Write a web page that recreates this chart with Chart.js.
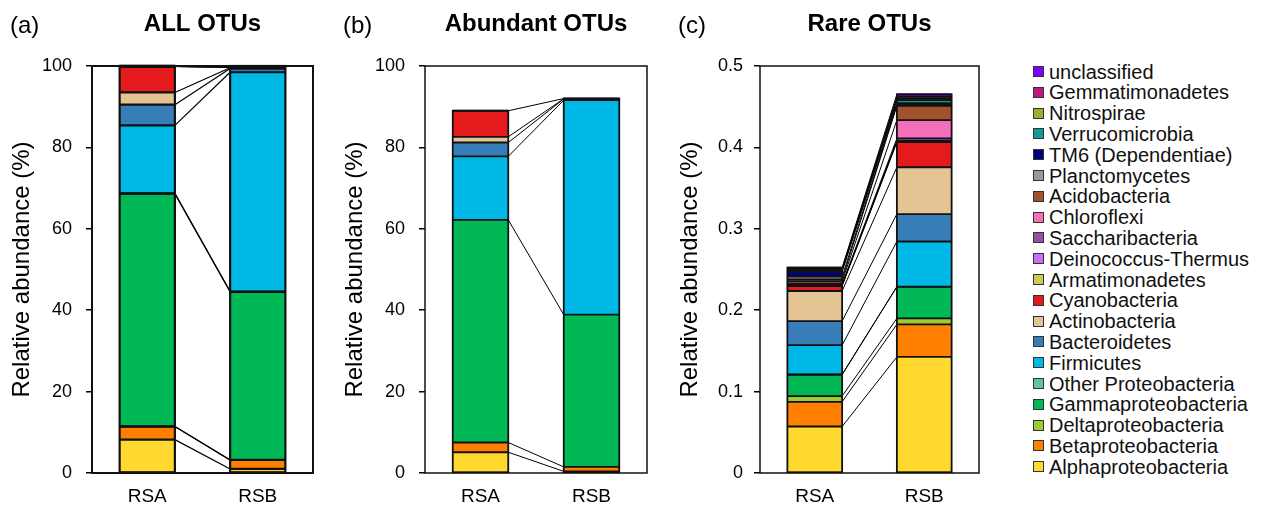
<!DOCTYPE html>
<html>
<head>
<meta charset="utf-8">
<script src="https://cdn.jsdelivr.net/npm/chart.js@4.4.1/dist/chart.umd.min.js"></script>
<style>
  html,body{margin:0;padding:0;background:#fff;width:1265px;height:508px;overflow:hidden;font-family:"Liberation Sans",Arial,sans-serif;}
  .cv{position:absolute;top:0;height:508px;}
  #legend{position:absolute;left:1033px;top:61.6px;}
  .li{position:relative;height:20.8px;line-height:20.8px;font-size:20px;color:#111;white-space:nowrap;}
  .bx{position:absolute;left:0;top:4.4px;width:9px;height:9px;border:1.5px solid #333;}
  .tx{position:absolute;left:16px;top:0;}
</style>
</head>
<body>
<div class="cv" style="left:0;width:330px;"><canvas id="ca"></canvas></div>
<div class="cv" style="left:333px;width:330px;"><canvas id="cb"></canvas></div>
<div class="cv" style="left:668px;width:332px;"><canvas id="cc"></canvas></div>
<div id="legend"></div>
<script>
// ---- data ----
const samples = ['RSA', 'RSB'];
const taxa = ['Alphaproteobacteria','Betaproteobacteria','Deltaproteobacteria','Gammaproteobacteria','Other Proteobacteria','Firmicutes','Bacteroidetes','Actinobacteria','Cyanobacteria','Armatimonadetes','Deinococcus-Thermus','Saccharibacteria','Chloroflexi','Acidobacteria','Planctomycetes','TM6 (Dependentiae)','Verrucomicrobia','Nitrospirae','Gemmatimonadetes','unclassified'];
const taxaColors = ['#FFD92F','#FF8000','#9ACD32','#00B956','#5EC6A0','#00B8E6','#377EB8','#E5C494','#E41A1C','#CCCC55','#CC6EF5','#984EA3','#F46FBA','#A0522D','#999999','#000080','#139A96','#9AAF2A','#C0177B','#8000FF'];

// All OTUs (%)
const allRSA = [8.2,3.2,0.05,57.2,0.05,16.7,5.1,3.0,6.4,0.01,0.01,0.01,0.02,0.01,0.01,0.01,0.01,0.005,0.005,0.01];
const allRSB = [1.0,2.2,0.02,41.3,0.05,53.9,0.9,0.2,0.15,0.01,0.01,0.02,0.08,0.05,0.03,0.02,0.02,0.01,0.01,0.02];
// Abundant OTUs (%)
const abRSA = [5.1,2.4,0,54.7,0,15.6,3.4,1.4,6.4,0,0,0,0,0,0,0,0,0,0,0];
const abRSB = [0.4,1.1,0,37.4,0,52.7,0.3,0.05,0.05,0,0,0,0,0,0,0,0,0,0,0];
// Rare OTUs (%)
const rareRSA = [0.0571,0.0304,0.0070,0.0262,0.0005,0.0358,0.0296,0.0370,0.0061,0.0008,0.0005,0.0012,0.0030,0.0025,0.0035,0.0060,0.0020,0.0008,0.0010,0.0013];
const rareRSB = [0.1426,0.0399,0.0074,0.0388,0.0002,0.0555,0.0337,0.0575,0.0308,0.0010,0.0006,0.0030,0.0225,0.0175,0.0015,0.0020,0.0035,0.0015,0.0025,0.0032];

const ticksAB = [0,20,40,60,80,100];
const ticksC = [0,0.1,0.2,0.3,0.4,0.5];

const FONT = '"Liberation Sans", Arial, sans-serif';

// ---- plugins ----
const decor = {
  id: 'decor',
  beforeDatasetsDraw(chart, args, opts) {
    const ctx = chart.ctx;
    const n = chart.data.datasets.length;
    ctx.save();
    ctx.strokeStyle = '#000';
    ctx.lineWidth = opts.linkWidth;
    for (let i = 0; i < n; i++) {
      const d = chart.data.datasets[i].data;
      if (!d[0] && !d[1]) continue;
      const meta = chart.getDatasetMeta(i);
      const a = meta.data[0].getProps(['x','y','width'], true);
      const b = meta.data[1].getProps(['x','y','width'], true);
      ctx.beginPath();
      ctx.moveTo(a.x + a.width/2, a.y);
      ctx.lineTo(b.x - b.width/2, b.y);
      ctx.stroke();
    }
    ctx.restore();
  },
  afterDatasetsDraw(chart, args, opts) {
    // crisp separators and outline for each stacked bar
    const ctx = chart.ctx;
    const n = chart.data.datasets.length;
    ctx.save();
    ctx.strokeStyle = '#111';
    for (let j = 0; j < chart.data.labels.length; j++) {
      let top = Infinity, base = -Infinity, x = 0, w = 0;
      ctx.lineWidth = opts.sepWidth;
      for (let i = 0; i < n; i++) {
        const p = chart.getDatasetMeta(i).data[j].getProps(['x','y','base','width'], true);
        top = Math.min(top, p.y); base = Math.max(base, p.base); x = p.x; w = p.width;
        if (chart.data.datasets[i].data[j] > 0) {
          ctx.beginPath();
          ctx.moveTo(x - w/2, p.y);
          ctx.lineTo(x + w/2, p.y);
          ctx.stroke();
        }
      }
      ctx.lineWidth = opts.outlineWidth;
      ctx.strokeRect(x - w/2, top, w, base - top);
    }
    ctx.restore();
  },
  afterDraw(chart, args, opts) {
    const ctx = chart.ctx, ca = chart.chartArea;
    ctx.save();
    ctx.strokeStyle = '#111';
    ctx.lineWidth = opts.frameWidth;
    ctx.strokeRect(ca.left, ca.top, ca.right - ca.left, ca.bottom - ca.top);
    ctx.fillStyle = '#000';
    ctx.textBaseline = 'middle';
    ctx.textAlign = 'left';
    ctx.font = '24px ' + FONT;
    ctx.fillText(opts.letter, opts.letterX, 26);
    ctx.textAlign = 'center';
    ctx.font = 'bold 24px ' + FONT;
    ctx.fillText(opts.title, (ca.left + ca.right)/2, 24);
    ctx.restore();
  }
};

function makeChart(id, rsa, rsb, yMax, yStep, tickPad, rightPad, letter, title, bw, frameW, linkW) {
  const datasets = taxa.map((t, i) => ({
    label: t,
    data: [rsa[i], rsb[i]],
    backgroundColor: taxaColors[i],
    borderColor: '#111',
    borderWidth: 0,
    borderSkipped: false,
    barPercentage: 0.5,
    categoryPercentage: 1.0
  }));
  return new Chart(document.getElementById(id), {
    type: 'bar',
    data: { labels: samples, datasets },
    plugins: [decor],
    options: {
      responsive: true,
      maintainAspectRatio: false,
      animation: false,
      layout: { padding: { top: 66, right: rightPad, left: 0, bottom: 0 } },
      plugins: {
        legend: { display: false },
        tooltip: { enabled: false },
        decor: { letter, title, letterX: 10, frameWidth: frameW, linkWidth: linkW, outlineWidth: bw, sepWidth: bw }
      },
      scales: {
        x: {
          stacked: true,
          grid: { display: false },
          border: { display: false },
          ticks: { color: '#000', padding: 4, font: { family: FONT, size: 19 } },
          afterFit(axis) { axis.height = 35; }
        },
        y: {
          stacked: true,
          min: 0, max: yMax,
          grid: { display: true, drawOnChartArea: false, drawTicks: true, tickLength: 6, color: '#000', lineWidth: 1.5 },
          border: { display: false },
          ticks: { stepSize: yStep, color: '#000', padding: tickPad, font: { family: FONT, size: 18 } },
          title: { display: true, text: 'Relative abundance (%)', color: '#000', font: { family: FONT, size: 24 }, padding: { top: 8, bottom: 0 } },
          afterFit(axis) { axis.width = 92; }
        }
      }
    }
  });
}

makeChart('ca', allRSA, allRSB, ticksAB[ticksAB.length-1], ticksAB[1]-ticksAB[0], 14, 17, '(a)', 'ALL OTUs', 2.2, 2, 1.2);
makeChart('cb', abRSA, abRSB, ticksAB[ticksAB.length-1], ticksAB[1]-ticksAB[0], 14, 16, '(b)', 'Abundant OTUs', 1.8, 1.5, 1);
makeChart('cc', rareRSA, rareRSB, ticksC[ticksC.length-1], 0.1, 11, 21, '(c)', 'Rare OTUs', 1.8, 1.5, 1);

// ---- legend (top = last taxon) ----
const lg = document.getElementById('legend');
for (let i = taxa.length - 1; i >= 0; i--) {
  const row = document.createElement('div');
  row.className = 'li';
  row.innerHTML = '<span class="bx" style="background:' + taxaColors[i] + '"></span><span class="tx"></span>';
  row.querySelector('.tx').textContent = taxa[i];
  lg.appendChild(row);
}
</script>
</body>
</html>
